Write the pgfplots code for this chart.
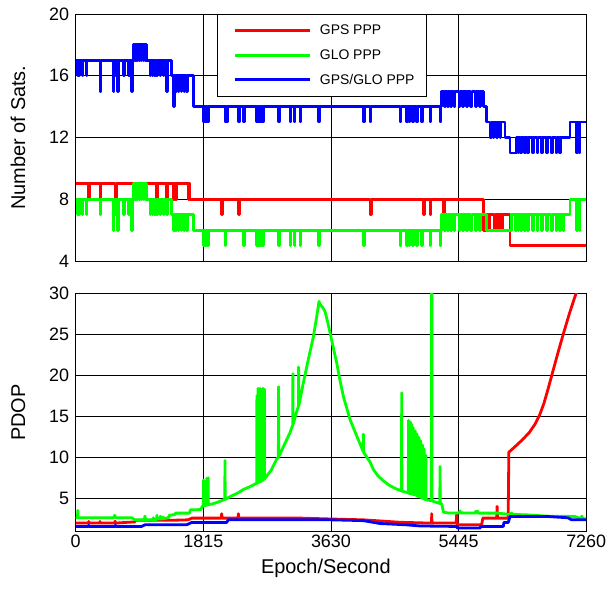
\documentclass[border=0pt]{standalone}
\usepackage{fontspec}
\setmainfont{Liberation Sans}
\usepackage{pgfplots}
\pgfplotsset{compat=1.18}

\definecolor{gpsred}{RGB}{255,0,0}
\definecolor{glogreen}{RGB}{0,255,0}
\definecolor{bothblue}{RGB}{0,0,255}

\pgfplotsset{
  ppp/.style={
    scale only axis, width=510.5bp,
    xmin=0, xmax=7260, xtick={0,1815,3630,5445,7260},
    grid=major, major grid style={black, line width=0.6bp},
    axis line style={line width=0.9bp},
    tick align=inside, major tick length=4bp, tick style={black, line width=0.6bp},
    /pgf/number format/assume math mode=true,
    /pgf/number format/1000 sep={},
    tick label style={font=\fontsize{18}{18}\selectfont},
    label style={font=\fontsize{20}{20}\selectfont},
    yticklabel style={xshift=-3bp},
    ylabel style={at={(axis description cs:-0.0993,0.5)}, anchor=base},
  },
  pline/.style={line width=2.8bp, no marks, line join=round},
}

\begin{document}
\begin{tikzpicture}
\useasboundingbox (0bp,0bp) rectangle (609bp,589bp);

% number of satellites
\begin{axis}[ppp, at={(75.7bp,328bp)}, anchor=south west, height=247bp,
  ymin=4, ymax=20, ytick={4,8,12,16,20}, xticklabels={},
  ylabel={Number of Sats.},
  legend style={at={(0.2774,1)}, anchor=north west, draw=black, line width=0.8bp,
    fill=white, inner xsep=9.5bp, inner ysep=8.5bp, row sep=9.4bp, column sep=6.9bp,
    font=\fontsize{14}{14}\selectfont, nodes={inner sep=2bp, text depth=0.15em},
    cells={anchor=west}},
  legend image code/.code={\path (0bp,0bp) (81bp,0bp);
    \fill[#1, draw=none] (6bp,-1.5bp) rectangle (81bp,1.5bp);}]
\addplot[gpsred, pline, const plot] coordinates {
 (0,9) (180,8) (195,9) (346,8) (360,9) (560,8) (575,9) (1152,8) (1167,9)
 (1294,8) (1309,9) (1390,8) (1405,9) (1420,8) (1436,9) (1602,8) (1612,9) (1626,8)
 (2076,7) (2091,8) (2313,7) (2328,8) (4186,7) (4201,8) (4945,7) (4960,8)
 (5039,7) (5054,8) (5229,7) (5244,8) (5797,6) (5845,7) (5875,6) (5890,7)
 (5950,6) (5965,7) (6010,6) (6025,7) (6060,6) (6075,7) (6176,5) (7260,5)};
\addlegendentry{GPS PPP}
\addplot[glogreen, pline, const plot] coordinates {
 (0,8) (20,7) (30,8) (45,7) (55,8) (95,7) (105,8) (150,7) (160,8)
 (346,7) (360,8) (535,6) (545,8) (560,7) (570,8) (590,6) (606,8)
 (677,7) (690,8) (750,7) (760,8) (796,6) (810,8)
 (820,9) (840,8) (850,9) (870,8) (880,9) (900,8) (910,9) (930,8) (940,9)
 (960,8) (970,9) (990,8) (1000,9) (1010,8)
 (1057,7) (1067,8) (1090,7) (1100,8) (1120,7) (1130,8) (1150,7) (1160,8)
 (1200,7) (1210,8) (1246,7) (1256,8) (1294,7) (1310,8)
 (1365,7) (1390,6) (1400,7) (1420,6) (1430,7) (1460,6) (1470,7) (1500,6) (1510,7)
 (1540,6) (1550,7) (1578,6) (1590,7)
 (1673,6) (1815,5) (1830,6) (1845,5) (1860,6) (1875,5) (1886,6)
 (2123,5) (2135,6) (2384,5) (2395,6)
 (2574,5) (2585,6) (2600,5) (2610,6) (2630,5) (2640,6) (2660,5) (2670,6)
 (2882,5) (2895,6) (3048,5) (3060,6) (3110,5) (3120,6) (3190,5) (3200,6)
 (3451,5) (3465,6) (4091,5) (4105,6)
 (4613,5) (4625,6) (4700,5) (4715,6) (4740,5) (4750,6) (4790,5) (4800,6)
 (4850,5) (4860,6) (4920,5) (4935,6) (5039,5) (5050,6) (5181,5) (5195,6)
 (5205,7) (5240,6) (5255,7) (5290,6) (5300,7) (5330,6) (5345,7) (5380,6) (5395,7)
 (5450,6) (5465,7) (5500,6) (5515,7) (5560,6) (5575,7) (5620,6) (5635,7)
 (5680,6) (5695,7) (5740,6) (5755,7)
 (5845,6) (6200,7)
 (6250,6) (6265,7) (6290,6) (6300,7) (6330,6) (6345,7) (6380,6) (6395,7)
 (6420,6) (6435,7) (6500,6) (6515,7) (6560,6) (6575,7) (6620,6) (6635,7)
 (6700,6) (6715,7) (6760,6) (6775,7) (6830,6) (6845,7) (6880,6) (6895,7)
 (6930,6) (6945,7)
 (7030,8) (7125,6) (7140,8) (7160,6) (7172,8) (7260,8)};
\addlegendentry{GLO PPP}
\addplot[bothblue, pline, const plot] coordinates {
 (0,17) (20,16) (30,17) (45,16) (55,17) (95,16) (105,17) (150,16) (160,17)
 (346,15) (360,17) (535,15) (545,17) (560,16) (570,17) (590,15) (606,17)
 (677,16) (690,17) (750,16) (760,17) (796,15) (810,17)
 (820,18) (840,17) (850,18) (870,17) (880,18) (900,17) (910,18) (930,17) (940,18)
 (960,17) (970,18) (990,17) (1000,18) (1010,17)
 (1057,16) (1067,17) (1090,16) (1100,17) (1120,16) (1130,17) (1150,16) (1160,17)
 (1200,16) (1210,17) (1246,16) (1256,17) (1294,15) (1310,17)
 (1365,16) (1390,14) (1400,16) (1420,15) (1430,16) (1460,15) (1470,16)
 (1500,15) (1510,16) (1540,15) (1550,16) (1578,15) (1590,16)
 (1673,14) (1815,13) (1830,14) (1845,13) (1860,14) (1875,13) (1886,14)
 (2123,13) (2135,14) (2147,13) (2160,14) (2313,13) (2325,14) (2384,13) (2395,14)
 (2574,13) (2585,14) (2600,13) (2610,14) (2630,13) (2640,14) (2660,13) (2670,14)
 (2882,13) (2895,14) (3048,13) (3060,14) (3110,13) (3120,14) (3190,13) (3200,14)
 (3451,13) (3465,14) (4091,13) (4105,14) (4186,13) (4200,14)
 (4613,13) (4625,14) (4700,13) (4715,14) (4740,13) (4750,14) (4790,13) (4800,14)
 (4850,13) (4860,14) (4920,13) (4935,14) (5039,13) (5050,14) (5181,13) (5195,14)
 (5205,15) (5240,14) (5255,15) (5290,14) (5300,15) (5330,14) (5345,15) (5380,14)
 (5395,15) (5450,14) (5465,15) (5500,14) (5515,15) (5560,14) (5575,15)
 (5620,14) (5635,15) (5680,14) (5695,15) (5740,14) (5755,15)
 (5797,14) (5845,13) (5892,12) (5910,13) (5939,12) (5950,13) (5987,12) (6000,13)
 (6034,12) (6045,13) (6105,12) (6176,11) (6272,12)
 (6290,11) (6300,12) (6330,11) (6345,12) (6380,11) (6395,12) (6420,11) (6435,12)
 (6500,11) (6515,12) (6560,11) (6575,12) (6620,11) (6635,12) (6700,11) (6715,12)
 (6760,11) (6775,12) (6830,11) (6845,12) (6880,11) (6895,12)
 (7030,13) (7125,11) (7140,13) (7160,11) (7172,13) (7260,13)};
\addlegendentry{GPS/GLO PPP}
\end{axis}

% PDOP
\begin{axis}[ppp, at={(75.7bp,57.3bp)}, anchor=south west, height=238.4bp,
  ymin=0.9, ymax=30, ytick={5,10,15,20,25,30},
  xlabel={Epoch/Second}, ylabel={PDOP},
  xlabel style={at={(axis description cs:0.49,-0.1774)}, anchor=base}]
\addplot[gpsred, pline] coordinates {
 (0,1.95) (180,1.95) (185,2.15) (190,1.95) (340,1.95) (345,2.15) (350,1.95)
 (555,1.95) (560,2.2) (565,1.95) (840,2.1) (850,2.3) (1400,2.3) (1600,2.35)
 (1650,2.56) (2070,2.56) (2076,3.1) (2082,2.56) (2308,2.56) (2313,3.1) (2318,2.56)
 (3200,2.56) (3630,2.45) (4091,2.35) (4613,2.05) (5039,1.95) (5060,1.95)
 (5063,3.1) (5066,1.95) (5410,1.95) (5418,3.0) (5426,1.75) (5773,1.75)
 (5790,2.56) (5988,2.56) (5993,4.0) (5998,2.56) (6150,2.56) (6160,10.6)
 (6250,11.3) (6350,12.1) (6450,13.0) (6530,14.0) (6600,15.2) (6660,16.6)
 (6720,18.4) (6790,20.6) (6860,22.8) (6940,25.2) (7020,27.5) (7100,29.6)
 (7135,30.4) (7200,32)};
\addplot[glogreen, pline] coordinates {
 (0,2.6) (25,2.6) (30,3.5) (35,2.6) (540,2.6) (555,2.9) (570,2.6) (800,2.6)
 (840,2.35) (975,2.35) (985,2.8) (995,2.35) (1100,2.35) (1105,2.6) (1110,2.35)
 (1150,2.4) (1155,2.9) (1160,2.45) (1200,2.45) (1205,2.8) (1210,2.45)
 (1240,2.5) (1245,2.7) (1250,2.5) (1320,2.6) (1330,2.9) (1412,3.0) (1420,3.17)
 (1620,3.17) (1630,3.57) (1780,3.6) (1800,4.0)
 (1815,4.05) (1818,7.2) (1821,4.05) (1840,4.1) (1843,7.0) (1846,4.1)
 (1860,4.15) (1863,7.4) (1866,4.15) (1880,4.2) (1883,7.5) (1886,4.2)
 (1950,4.3) (2050,4.6) (2120,4.85) (2123,9.6) (2126,4.85) (2200,5.2) (2300,5.6)
 (2384,6.05) (2480,6.4) (2570,6.8)
 (2574,6.8) (2577,17.5) (2580,6.8) (2590,6.9) (2593,18.4) (2596,6.9)
 (2605,6.95) (2608,18.0) (2611,6.95) (2620,7.0) (2623,18.4) (2626,7.0)
 (2640,7.1) (2643,18.2) (2646,7.1) (2660,7.2) (2663,18.4) (2666,7.2)
 (2680,7.35) (2683,18.3) (2686,7.35)
 (2780,8.4) (2858,9.75) (2882,10.0) (2885,18.6) (2888,10.1) (2950,11.2)
 (3048,13.0) (3086,13.9) (3089,20.2) (3092,14.0) (3130,15.2) (3167,16.2)
 (3170,21.0) (3173,16.3) (3238,19.1) (3310,22.0) (3380,24.7) (3430,27.3)
 (3460,29.0) (3480,28.6) (3510,28.3) (3545,27.8) (3580,26.6) (3617,25.2)
 (3660,23.5) (3712,21.5) (3760,19.3) (3807,17.4) (3901,14.6) (3996,12.6)
 (4088,10.7) (4091,12.8) (4094,10.6) (4186,9.4) (4233,8.5) (4300,7.7)
 (4376,7.1) (4470,6.5) (4565,6.1) (4633,5.9) (4636,17.85) (4639,5.85)
 (4708,5.7) (4730,5.6) (4733,14.5) (4736,5.6) (4757,5.55) (4760,14.3) (4763,5.55)
 (4777,5.5) (4780,14.0) (4783,5.5) (4797,5.45) (4800,13.6) (4803,5.45)
 (4827,5.4) (4830,13.2) (4833,5.4) (4852,5.3) (4855,12.8) (4858,5.3)
 (4877,5.2) (4880,12.4) (4883,5.2) (4902,5.1) (4905,12.0) (4908,5.1)
 (4927,5.0) (4930,11.5) (4933,5.0) (4952,4.9) (4955,11.0) (4958,4.9)
 (4977,4.8) (4980,10.2) (4983,4.8)
 (5039,4.7) (5058,4.7) (5060,30.5) (5066,30.5) (5068,4.65)
 (5178,4.35) (5181,8.85) (5184,4.35) (5205,4.3) (5229,3.3) (5300,3.17)
 (5460,3.2) (5466,3.45) (5472,3.2) (5680,3.17) (5690,3.4) (5700,3.2)
 (5715,3.4) (5725,3.17) (6000,3.17) (6176,3.0) (6200,3.2) (6210,3.0)
 (6400,2.97) (6700,2.8) (7100,2.76) (7180,2.5) (7200,2.8) (7210,2.5) (7260,2.45)};
\addplot[bothblue, pline] coordinates {
 (0,1.54) (180,1.54) (185,1.7) (190,1.54) (560,1.54) (565,1.7) (570,1.54)
 (938,1.54) (985,1.74) (1578,1.74) (1650,2.03) (2147,2.03) (2170,2.35)
 (3630,2.35) (4091,2.25) (4327,1.9) (4700,1.74) (4896,1.6) (5418,1.54)
 (5430,1.34) (5750,1.34) (5760,1.54) (6081,1.54) (6090,2.03) (6152,2.03)
 (6176,2.76) (6700,2.76) (7000,2.6) (7050,2.35) (7260,2.35)};
\end{axis}
\end{tikzpicture}
\end{document}
